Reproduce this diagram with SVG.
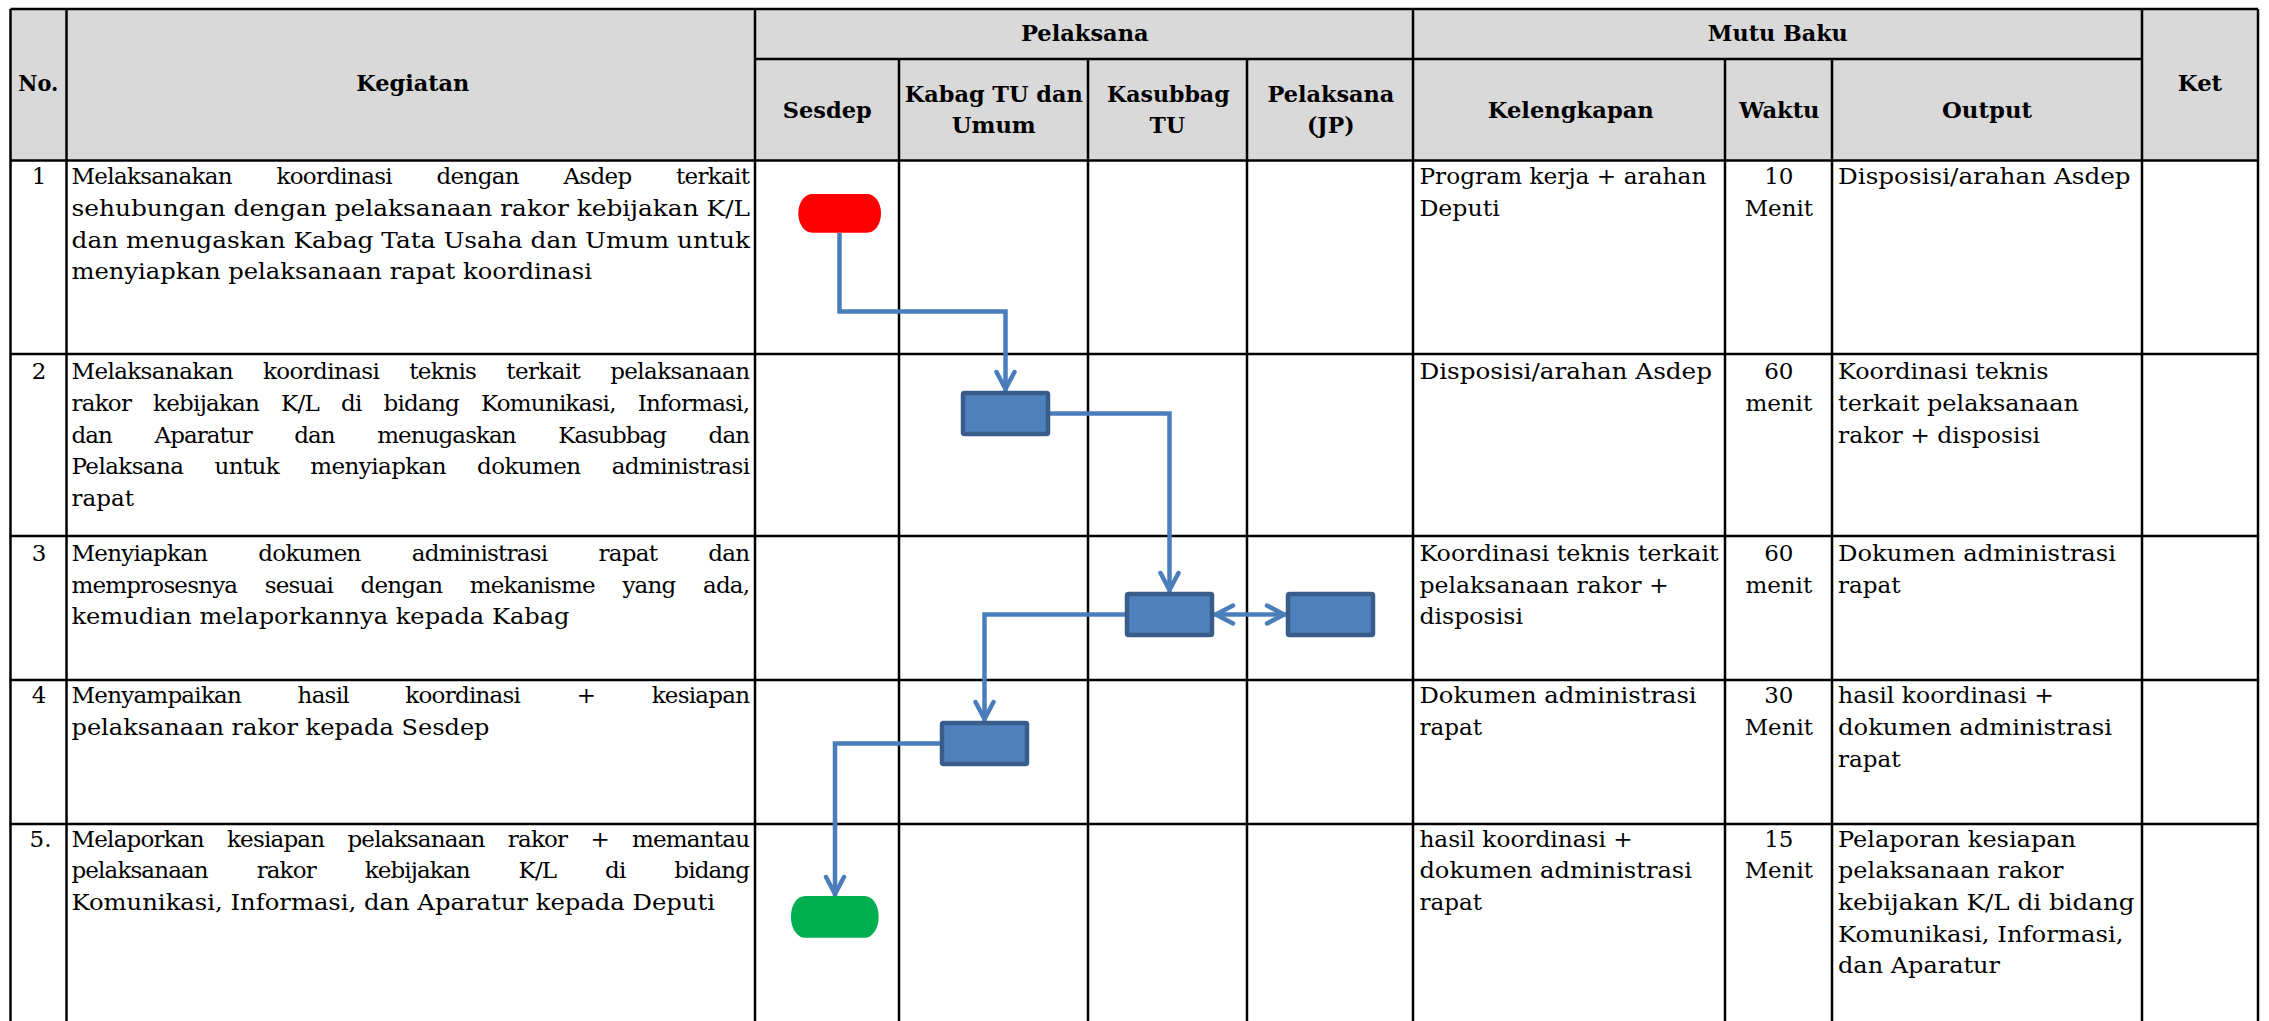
<svg xmlns="http://www.w3.org/2000/svg" width="2269" height="1021" viewBox="0 0 2269 1021">
<style>
.grid{stroke:#000;stroke-width:2.5;fill:none}
.hd{font-family:"DejaVu Serif","Liberation Serif",serif;font-weight:bold;font-size:21.5px;text-anchor:middle;fill:#000}
.tx{font-family:"DejaVu Serif","Liberation Serif",serif;font-size:23px;fill:#000}
.c{text-anchor:middle}
.proc{fill:#4F81BD;stroke:#385D8A;stroke-width:4.5}
.conn{fill:none;stroke:#4A7EBB;stroke-width:4.5}
</style>
<defs>
<marker id="arr" markerUnits="userSpaceOnUse" markerWidth="24" markerHeight="24" viewBox="-22 -12 24 24" refX="2" refY="0" orient="auto-start-reverse">
<path d="M-17,-9 L0,0 L-17,9" fill="none" stroke="#4A7EBB" stroke-width="4.5" stroke-linecap="round" stroke-linejoin="round"/>
</marker>
</defs>
<rect x="0" y="0" width="2269" height="1021" fill="#fff"/>
<rect x="10.5" y="9" width="2247.5" height="151.5" fill="#D9D9D9"/>
<g id="grid" class="grid">
<line x1="10.5" y1="9" x2="2258" y2="9"/>
<line x1="755" y1="59" x2="2142" y2="59"/>
<line x1="10.5" y1="160.5" x2="2258" y2="160.5"/>
<line x1="10.5" y1="354" x2="2258" y2="354"/>
<line x1="10.5" y1="536" x2="2258" y2="536"/>
<line x1="10.5" y1="680" x2="2258" y2="680"/>
<line x1="10.5" y1="824" x2="2258" y2="824"/>
<line x1="10.5" y1="9" x2="10.5" y2="1021"/>
<line x1="66.5" y1="9" x2="66.5" y2="1021"/>
<line x1="755" y1="9" x2="755" y2="1021"/>
<line x1="899" y1="59" x2="899" y2="1021"/>
<line x1="1088" y1="59" x2="1088" y2="1021"/>
<line x1="1247" y1="59" x2="1247" y2="1021"/>
<line x1="1413" y1="9" x2="1413" y2="1021"/>
<line x1="1725" y1="59" x2="1725" y2="1021"/>
<line x1="1832" y1="59" x2="1832" y2="1021"/>
<line x1="2142" y1="9" x2="2142" y2="1021"/>
<line x1="2258" y1="9" x2="2258" y2="1021"/>
</g>
<g id="header">
<text class="hd" x="38.3" y="91" textLength="40" lengthAdjust="spacingAndGlyphs">No.</text>
<text class="hd" x="412.8" y="91" textLength="113" lengthAdjust="spacingAndGlyphs">Kegiatan</text>
<text class="hd" x="1084.8" y="41" textLength="127.6" lengthAdjust="spacingAndGlyphs">Pelaksana</text>
<text class="hd" x="1777.8" y="41" textLength="140" lengthAdjust="spacingAndGlyphs">Mutu Baku</text>
<text class="hd" x="827.2" y="117.5" textLength="89" lengthAdjust="spacingAndGlyphs">Sesdep</text>
<text class="hd" x="993.8" y="101.5" textLength="178" lengthAdjust="spacingAndGlyphs">Kabag TU dan</text>
<text class="hd" x="993.8" y="132.7" textLength="84" lengthAdjust="spacingAndGlyphs">Umum</text>
<text class="hd" x="1168.3" y="101.5" textLength="122.6" lengthAdjust="spacingAndGlyphs">Kasubbag</text>
<text class="hd" x="1167.3" y="132.7" textLength="35.4" lengthAdjust="spacingAndGlyphs">TU</text>
<text class="hd" x="1330.9" y="101.5" textLength="127" lengthAdjust="spacingAndGlyphs">Pelaksana</text>
<text class="hd" x="1330.8" y="132.7" textLength="47.6" lengthAdjust="spacingAndGlyphs">(JP)</text>
<text class="hd" x="1570.8" y="117.5" textLength="166" lengthAdjust="spacingAndGlyphs">Kelengkapan</text>
<text class="hd" x="1779.3" y="117.5" textLength="80.4" lengthAdjust="spacingAndGlyphs">Waktu</text>
<text class="hd" x="1987" y="117.5" textLength="90" lengthAdjust="spacingAndGlyphs">Output</text>
<text class="hd" x="2200" y="90.5" textLength="44.3" lengthAdjust="spacingAndGlyphs">Ket</text>
</g>
<g id="row1">
<text class="tx c" x="39" y="184.3">1</text>
<text class="tx" x="71.5" y="184.3" word-spacing="38" textLength="678.5" lengthAdjust="spacing">Melaksanakan koordinasi dengan Asdep terkait</text>
<text class="tx" x="71.5" y="216" textLength="678.5" lengthAdjust="spacingAndGlyphs">sehubungan dengan pelaksanaan rakor kebijakan K/L</text>
<text class="tx" x="71.5" y="247.7" textLength="678.5" lengthAdjust="spacingAndGlyphs">dan menugaskan Kabag Tata Usaha dan Umum untuk</text>
<text class="tx" x="71.5" y="279.3" textLength="520.5" lengthAdjust="spacingAndGlyphs">menyiapkan pelaksanaan rapat koordinasi</text>
<text class="tx" x="1419.4" y="184.3" textLength="287" lengthAdjust="spacingAndGlyphs">Program kerja + arahan</text>
<text class="tx" x="1419.4" y="216" textLength="80.4" lengthAdjust="spacingAndGlyphs">Deputi</text>
<text class="tx c" x="1778.8" y="184.3">10</text>
<text class="tx c" x="1778.8" y="216" textLength="68.2" lengthAdjust="spacingAndGlyphs">Menit</text>
<text class="tx" x="1838" y="184.3" textLength="292.6" lengthAdjust="spacingAndGlyphs">Disposisi/arahan Asdep</text>
</g>
<g id="row2">
<text class="tx c" x="39" y="379.3">2</text>
<text class="tx" x="71.5" y="379.3" word-spacing="23.3" textLength="678.5" lengthAdjust="spacing">Melaksanakan koordinasi teknis terkait pelaksanaan</text>
<text class="tx" x="71.5" y="411" word-spacing="15.5" textLength="678.5" lengthAdjust="spacing">rakor kebijakan K/L di bidang Komunikasi, Informasi,</text>
<text class="tx" x="71.5" y="442.7" word-spacing="36.1" textLength="678.5" lengthAdjust="spacing">dan Aparatur dan menugaskan Kasubbag dan</text>
<text class="tx" x="71.5" y="474.3" word-spacing="24.4" textLength="678.5" lengthAdjust="spacing">Pelaksana untuk menyiapkan dokumen administrasi</text>
<text class="tx" x="71.5" y="506">rapat</text>
<text class="tx" x="1419.4" y="379.3" textLength="292.6" lengthAdjust="spacingAndGlyphs">Disposisi/arahan Asdep</text>
<text class="tx c" x="1778.8" y="379.3">60</text>
<text class="tx c" x="1778.8" y="411">menit</text>
<text class="tx" x="1838" y="379.3" textLength="210.6" lengthAdjust="spacingAndGlyphs">Koordinasi teknis</text>
<text class="tx" x="1838" y="411" textLength="241" lengthAdjust="spacingAndGlyphs">terkait pelaksanaan</text>
<text class="tx" x="1838" y="442.7" textLength="202" lengthAdjust="spacingAndGlyphs">rakor + disposisi</text>
</g>
<g id="row3">
<text class="tx c" x="39" y="561">3</text>
<text class="tx" x="71.5" y="561" word-spacing="44.5" textLength="678.5" lengthAdjust="spacing">Menyiapkan dokumen administrasi rapat dan</text>
<text class="tx" x="71.5" y="592.7" word-spacing="21.1" textLength="678.5" lengthAdjust="spacing">memprosesnya sesuai dengan mekanisme yang ada,</text>
<text class="tx" x="71.5" y="624.3" textLength="498" lengthAdjust="spacingAndGlyphs">kemudian melaporkannya kepada Kabag</text>
<text class="tx" x="1419.4" y="561" textLength="299.3" lengthAdjust="spacingAndGlyphs">Koordinasi teknis terkait</text>
<text class="tx" x="1419.4" y="592.7" textLength="249.4" lengthAdjust="spacingAndGlyphs">pelaksanaan rakor +</text>
<text class="tx" x="1419.4" y="624.3" textLength="103.6" lengthAdjust="spacingAndGlyphs">disposisi</text>
<text class="tx c" x="1778.8" y="561">60</text>
<text class="tx c" x="1778.8" y="592.7">menit</text>
<text class="tx" x="1838" y="561" textLength="278" lengthAdjust="spacingAndGlyphs">Dokumen administrasi</text>
<text class="tx" x="1838" y="592.7" textLength="62.5" lengthAdjust="spacingAndGlyphs">rapat</text>
</g>
<g id="row4">
<text class="tx c" x="39" y="703.3">4</text>
<text class="tx" x="71.5" y="703.3" word-spacing="50" textLength="678.5" lengthAdjust="spacing">Menyampaikan hasil koordinasi + kesiapan</text>
<text class="tx" x="71.5" y="735" textLength="418" lengthAdjust="spacingAndGlyphs">pelaksanaan rakor kepada Sesdep</text>
<text class="tx" x="1419.4" y="703.3" textLength="277.2" lengthAdjust="spacingAndGlyphs">Dokumen administrasi</text>
<text class="tx" x="1419.4" y="735" textLength="62.6" lengthAdjust="spacingAndGlyphs">rapat</text>
<text class="tx c" x="1778.8" y="703.3">30</text>
<text class="tx c" x="1778.8" y="735" textLength="68.2" lengthAdjust="spacingAndGlyphs">Menit</text>
<text class="tx" x="1838" y="703.3" textLength="216" lengthAdjust="spacingAndGlyphs">hasil koordinasi +</text>
<text class="tx" x="1838" y="735" textLength="274" lengthAdjust="spacingAndGlyphs">dokumen administrasi</text>
<text class="tx" x="1838" y="766.7" textLength="62.5" lengthAdjust="spacingAndGlyphs">rapat</text>
</g>
<g id="row5">
<text class="tx c" x="40.5" y="846.7">5.</text>
<text class="tx" x="71.5" y="846.7" word-spacing="16.6" textLength="678.5" lengthAdjust="spacing">Melaporkan kesiapan pelaksanaan rakor + memantau</text>
<text class="tx" x="71.5" y="878.3" word-spacing="42.5" textLength="678.5" lengthAdjust="spacing">pelaksanaan rakor kebijakan K/L di bidang</text>
<text class="tx" x="71.5" y="910" textLength="643.5" lengthAdjust="spacingAndGlyphs">Komunikasi, Informasi, dan Aparatur kepada Deputi</text>
<text class="tx" x="1419.4" y="846.7" textLength="213.4" lengthAdjust="spacingAndGlyphs">hasil koordinasi +</text>
<text class="tx" x="1419.4" y="878.3" textLength="272.6" lengthAdjust="spacingAndGlyphs">dokumen administrasi</text>
<text class="tx" x="1419.4" y="910" textLength="62.6" lengthAdjust="spacingAndGlyphs">rapat</text>
<text class="tx c" x="1778.8" y="846.7">15</text>
<text class="tx c" x="1778.8" y="878.3" textLength="68.2" lengthAdjust="spacingAndGlyphs">Menit</text>
<text class="tx" x="1838" y="846.7" textLength="238" lengthAdjust="spacingAndGlyphs">Pelaporan kesiapan</text>
<text class="tx" x="1838" y="878.3" textLength="225.5" lengthAdjust="spacingAndGlyphs">pelaksanaan rakor</text>
<text class="tx" x="1838" y="910" textLength="296.5" lengthAdjust="spacingAndGlyphs">kebijakan K/L di bidang</text>
<text class="tx" x="1838" y="941.7" textLength="285.4" lengthAdjust="spacingAndGlyphs">Komunikasi, Informasi,</text>
<text class="tx" x="1838" y="973.3" textLength="162" lengthAdjust="spacingAndGlyphs">dan Aparatur</text>
</g>
<g id="connectors" class="conn">
<path d="M839.5,233 V311.5 H1005.5 V391" marker-end="url(#arr)"/>
<path d="M1050,413.5 H1169.5 V592" marker-end="url(#arr)"/>
<path d="M1214,614.5 H1286" marker-start="url(#arr)" marker-end="url(#arr)"/>
<path d="M1125,614.5 H984.5 V721" marker-end="url(#arr)"/>
<path d="M940,743.5 H835 V896" marker-end="url(#arr)"/>
</g>
<g id="start"><rect x="798.3" y="194" width="82.7" height="38.7" rx="14" ry="19" fill="#FF0000"/></g>
<g id="p-kabag-2"><rect class="proc" x="963" y="393" width="85" height="41" rx="1.5"/></g>
<g id="p-kasubbag-3"><rect class="proc" x="1127" y="594" width="85" height="41" rx="1.5"/></g>
<g id="p-pelaksana-3"><rect class="proc" x="1288" y="594" width="85" height="41" rx="1.5"/></g>
<g id="p-kabag-4"><rect class="proc" x="942" y="723" width="85" height="41" rx="1.5"/></g>
<g id="end"><rect x="791" y="896" width="87.6" height="41.7" rx="14" ry="20" fill="#00B050"/></g>
</svg>
